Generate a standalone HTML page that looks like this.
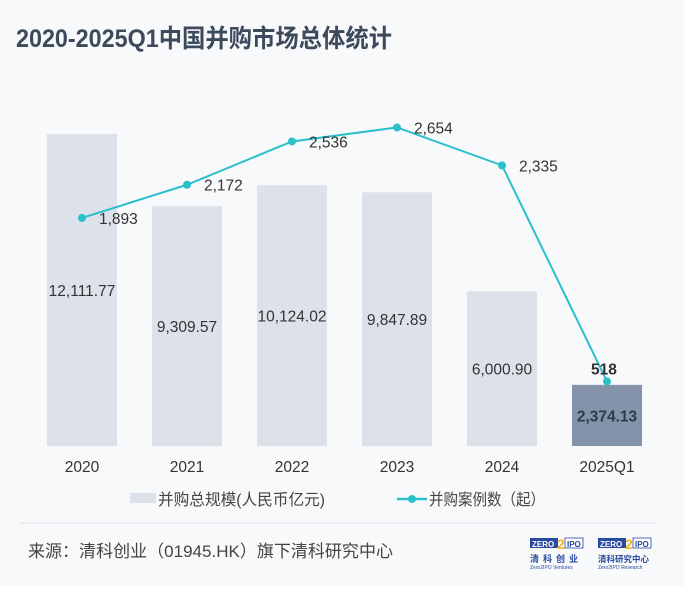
<!DOCTYPE html>
<html><head><meta charset="utf-8"><style>
body{margin:0;width:700px;height:596px;background:#fff;font-family:"Liberation Sans","Noto Sans CJK SC",sans-serif;overflow:hidden}
#panel{position:absolute;left:0;top:0;width:684px;height:586px;background:#f8f9fb}
</style></head><body>
<div id="panel"></div>
<svg width="700" height="596" style="position:absolute;left:0;top:0">
<text x="16" y="47" font-size="25" font-weight="bold" fill="#3d4a5c" textLength="376" lengthAdjust="spacingAndGlyphs" font-family="'Liberation Sans','Noto Sans CJK SC',sans-serif">2020-2025Q1中国并购市场总体统计</text>
<g id="bars"></g><g id="line"></g><g id="labels"></g>
<g>
<rect x="130" y="493" width="26" height="10" fill="#dde1ea"/>
<text x="158" y="505" font-size="16" fill="#444" textLength="167" lengthAdjust="spacingAndGlyphs">并购总规模(人民币亿元)</text>
<line x1="397" y1="499" x2="427" y2="499" stroke="#2bbfcc" stroke-width="2.5"/>
<circle cx="412" cy="499" r="4" fill="#2bbfcc"/>
<text x="429" y="505" font-size="16" fill="#444" textLength="116" lengthAdjust="spacingAndGlyphs">并购案例数（起）</text>
</g>
<line x1="20" y1="523" x2="657" y2="523" stroke="#e2e4e8" stroke-width="1"/>
<text x="28" y="557" font-size="17" fill="#444" textLength="365" lengthAdjust="spacingAndGlyphs">来源：清科创业（01945.HK）旗下清科研究中心</text>
<g font-family="'Liberation Sans','Noto Sans CJK SC',sans-serif">
<rect x="530" y="538" width="28" height="10" fill="#2a4aa0"/><text x="532" y="547" font-size="8" font-weight="bold" fill="#fff">ZERO</text>
<text x="557" y="549" font-size="14" font-weight="bold" fill="#f3b61f">2</text>
<rect x="565" y="538" width="18" height="10" fill="#fff" stroke="#2a4aa0" stroke-width="0.8"/><text x="567" y="547" font-size="8" font-weight="bold" fill="#2a4aa0">IPO</text>
<text x="530" y="562" font-size="9" font-weight="bold" fill="#2a4aa0" letter-spacing="4">清科创业</text>
<text x="530" y="569" font-size="5" fill="#2a4aa0">Zero2IPO Ventures</text>
</g>
<g font-family="'Liberation Sans','Noto Sans CJK SC',sans-serif">
<rect x="598" y="538" width="28" height="10" fill="#2a4aa0"/><text x="600" y="547" font-size="8" font-weight="bold" fill="#fff">ZERO</text>
<text x="625" y="549" font-size="14" font-weight="bold" fill="#f3b61f">2</text>
<rect x="633" y="538" width="18" height="10" fill="#fff" stroke="#2a4aa0" stroke-width="0.8"/><text x="635" y="547" font-size="8" font-weight="bold" fill="#2a4aa0">IPO</text>
<text x="598" y="562" font-size="8.5" font-weight="bold" fill="#2a4aa0">清科研究中心</text>
<text x="598" y="569" font-size="5" fill="#2a4aa0">Zero2IPO Research</text>
</g>
</svg>
<script>
const categories=["2020","2021","2022","2023","2024","2025Q1"];
const amountValues=[12111.77,9309.57,10124.02,9847.89,6000.90,2374.13];
const amountLabels=["12,111.77","9,309.57","10,124.02","9,847.89","6,000.90","2,374.13"];
const dealValues=[1893,2172,2536,2654,2335,518];
const dealLabels=["1,893","2,172","2,536","2,654","2,335","518"];
const NS="http://www.w3.org/2000/svg";
const xPos=i=>82+i*105;
const yBar=v=>446-v*0.02576;
const yLine=v=>443-v*0.1189;
function mk(tag,attrs,parent){const e=document.createElementNS(NS,tag);for(const k in attrs)e.setAttribute(k,attrs[k]);document.getElementById(parent).appendChild(e);return e;}
const last=categories.length-1;
categories.forEach((c,i)=>{
  const x=xPos(i),top=yBar(amountValues[i]);
  const r=mk('rect',{x:x-35,y:top,width:70,height:446-top,fill:i===last?'#8593aa':'#dde1ea'},'bars');
  
  
  const t=mk('text',{x:x,y:(top+446)/2+6,'text-anchor':'middle','font-size':15.5,fill:i===last?'#2c3a4e':'#333','font-weight':i===last?'bold':'normal'},'labels');
  t.textContent=amountLabels[i];
  
  
  const xl=mk('text',{x:x,y:472,'text-anchor':'middle','font-size':15.5,fill:'#333'},'labels');
  xl.textContent=c;
  
  
});
const pts=dealValues.map((v,i)=>xPos(i)+','+yLine(v)).join(' ');
const pl=mk('polyline',{points:pts,fill:'none',stroke:'#2bbfcc','stroke-width':2},'line');


dealValues.forEach((v,i)=>{
  const c=mk('circle',{cx:xPos(i),cy:yLine(v),r:4,fill:'#2bbfcc'},'line');
  
  
  const t=mk('text',{x:xPos(i)+(i===last?-16:17),y:yLine(v)+(i===last?-7:6),'font-size':15.5,fill:'#333','font-weight':i===last?'bold':'normal'},'labels');
  t.textContent=dealLabels[i];
  
  
});
</script>
</body></html>
